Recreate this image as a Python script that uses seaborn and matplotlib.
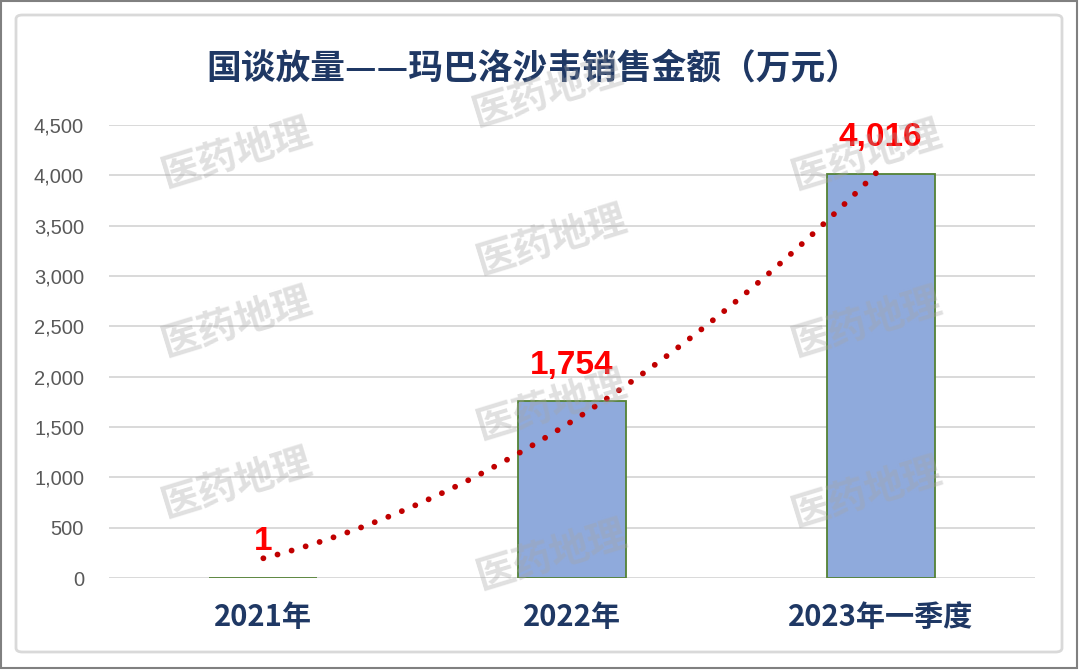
"""
玛巴洛沙韦销售金额柱状图（国谈放量），带点状趋势线与水印。
"""
import matplotlib
matplotlib.use('Agg')
import matplotlib.pyplot as plt
import pandas as pd
import seaborn as sns
from matplotlib.patches import FancyBboxPatch, Rectangle
from matplotlib.ticker import FuncFormatter

# --- Data ---
categories = ['2021年', '2022年', '2023年一季度']
sales = [1, 1754, 4016]
value_labels = ['1', '1,754', '4,016']

# dotted trend curve (category index, value)
trend_x = [0, 0.41, 0.84, 1.09, 1.45, 1.70, 1.84, 2.0]
trend_y = [197, 616, 1254, 1738, 2542, 3208, 3588, 4062]

y_ticks = [0, 500, 1000, 1500, 2000, 2500, 3000, 3500, 4000, 4500]

TITLE = '国谈放量——玛巴洛沙韦销售金额（万元）'
WATERMARK = '医药地理'
# watermark centres in pixels (x, y from top)
WATERMARK_POS = [(237, 153), (237, 322), (237, 483),
                 (548, 92), (552, 240), (552, 405), (552, 555),
                 (867, 155), (867, 322), (867, 492)]

W, H = 1080, 671
NAVY = '#1F3864'

sns.set_theme(style='white')
plt.rcParams['font.family'] = ['Liberation Sans', 'Noto Sans CJK SC', 'DejaVu Sans']

fig = plt.figure(figsize=(W / 100, H / 100), dpi=100)
fig.patch.set_facecolor('white')
ax = fig.add_axes([109 / W, 1 - 578 / H, (1035 - 109) / W, (578 - 125) / H])

df = pd.DataFrame({'cat': categories, 'sales': sales})
sns.barplot(data=df, x='cat', y='sales', ax=ax, color='#8FAADC', saturation=1,
            width=0.35, edgecolor='#548235', linewidth=1.3, zorder=2)

# polynomial (order 2) trend line, dotted
sns.regplot(x=trend_x, y=trend_y, order=2, ci=None, scatter=False, ax=ax,
            line_kws=dict(color='#C00000', lw=4.2, ls=(0, (0.01, 2.5)),
                          dash_capstyle='round', zorder=3))

for i, (v, lab) in enumerate(zip(sales, value_labels)):
    ax.annotate(lab, (i, v), xytext=(0, 26), textcoords='offset points',
                ha='center', va='center', fontsize=24, fontweight='bold',
                color='#FF0000', zorder=4, annotation_clip=False)

ax.set_xlim(-0.5, 2.5)
ax.set_ylim(0, 4500)
ax.set_yticks(y_ticks)
ax.yaxis.set_major_formatter(FuncFormatter(lambda x, p: format(int(x), ',')))
ax.set_xlabel('')
ax.set_ylabel('')
ax.yaxis.grid(True, color='#D9D9D9', lw=1.4)
ax.xaxis.grid(False)
ax.set_axisbelow(True)
for s in ax.spines.values():
    s.set_visible(False)
ax.tick_params(axis='y', length=0, pad=18, labelsize=14.5, labelcolor='#595959')
ax.tick_params(axis='x', length=0, pad=17)
for t in ax.get_xticklabels():
    t.set_fontfamily(['Noto Sans CJK SC'])
    t.set_fontweight('heavy')
    t.set_fontsize(21)
    t.set_color(NAVY)

fig.text(533 / W, 1 - 68 / H, TITLE, ha='center', va='center', fontsize=25,
         fontweight='heavy', color=NAVY, family=['Noto Sans CJK SC'])

# watermarks
for px, py in WATERMARK_POS:
    fig.text(px / W, 1 - py / H, WATERMARK, ha='center', va='center',
             rotation=17, fontsize=28, fontweight='heavy', color='#A6A6A6',
             alpha=0.35, family=['Noto Sans CJK SC'], zorder=10)

# frames
fig.patches.append(Rectangle((1 / W, 1 - 668 / H), 1076 / W, 667 / H,
                             transform=fig.transFigure, fill=False,
                             edgecolor='#808080', lw=1.5))
fig.patches.append(FancyBboxPatch((16 / W, 1 - 652 / H), (1062 - 16) / W, (652 - 15) / H,
                                  boxstyle='round,pad=0,rounding_size=0.006',
                                  transform=fig.transFigure, fill=False,
                                  edgecolor='#D9D9D9', lw=2))

plt.savefig('out.png', dpi=100)
